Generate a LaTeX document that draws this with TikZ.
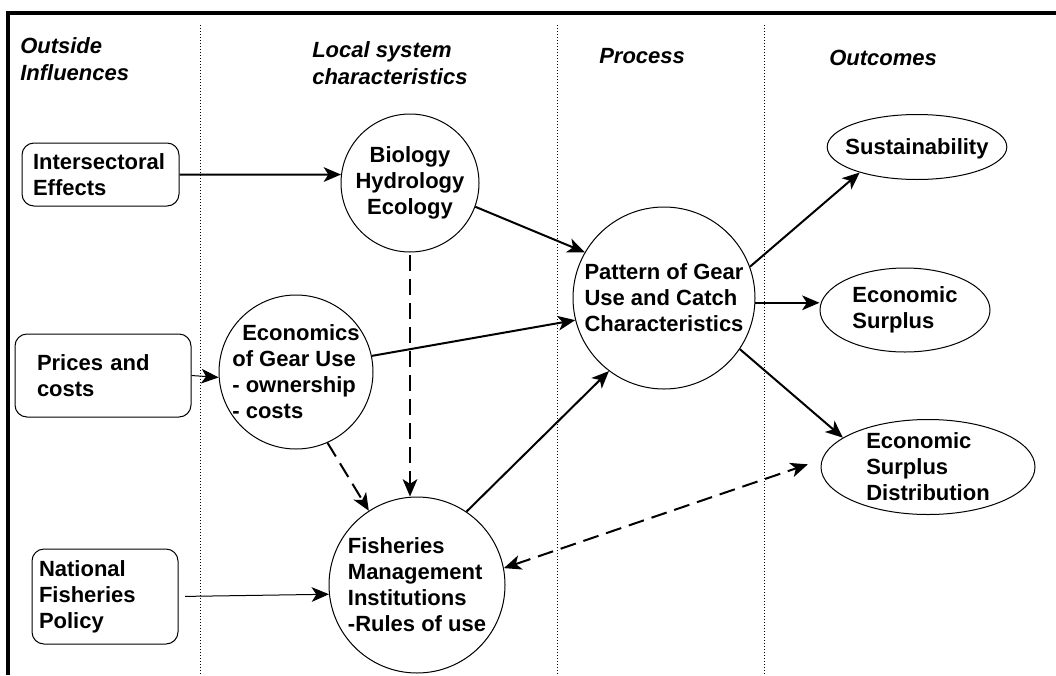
\documentclass[tikz,border=0pt]{standalone}
\usepackage{fontspec}
\setmainfont{Liberation Sans}
\usepackage{tikz}
\usetikzlibrary{shapes.geometric,arrows.meta}
\tikzstyle{blob}=[circle, draw, line width=.75pt, inner sep=-6pt, align=center]
\tikzstyle{oval}=[ellipse, draw, line width=.75pt, inner sep=-6pt, align=left]
\tikzstyle{box}=[rectangle, rounded corners=9pt, draw, line width=.75pt, align=left, inner ysep=0pt]
\tikzstyle{head}=[font=\bfseries\itshape\fontsize{16.5}{20}\selectfont, align=left, inner sep=0pt]
\tikzstyle{link}=[->, line width=1.5pt]
\tikzstyle{thinlink}=[->, line width=.75pt]
\tikzstyle{dashlink}=[link, dash pattern=on 12pt off 6pt]

\begin{document}
\begin{tikzpicture}[x=.75pt, y=.75pt, yscale=-1, >={Stealth[length=13pt,width=11pt,inset=3.5pt]},
		every node/.style={font=\bfseries\fontsize{16.5}{19.5}\selectfont}]
					\useasboundingbox (0,0) rectangle (1056,675);
					\draw[line width=2.5pt] (8,675) -- (8,13) -- (1056,13);
					\foreach \x in {200, 557, 764}{
						\draw[line width=.6pt, dash pattern=on .75pt off 1.5pt] (\x, 25) -- (\x, 675);
					}
					\node[head, anchor=base west] (outside) at (20,80) {Outside\\Influences};
					\node[head, anchor=base west] (local) at (312,84) {Local system\\characteristics};
					\node[head, anchor=base west] (process) at (599,63) {Process};
					\node[head, anchor=base west] (outcomes) at (829,65) {Outcomes};
					\node[box, minimum height=47.25pt, text width=101.25pt, inner xsep=8.25pt] (int) at (100.5,174.5) {Intersectoral\\Effects};
					\node[box, minimum height=62.25pt, text width=99pt, inner xsep=16.5pt] (pri) at (103,375.5) {Prices and\\costs};
					\node[box, minimum height=71.25pt, text width=99pt, inner xsep=5.25pt] (nat) at (105,596.5) {National\\Fisheries\\Policy};
					\node[blob, minimum size=103.5pt] (bio) at (410,183) {Biology\\Hydrology\\Ecology};
					\node[blob, minimum size=115.5pt, align=left] (eco) at (296,372) {\hspace*{.45em}Economics\\of Gear Use\\- ownership\\- costs};
					\node[blob, minimum size=136.5pt, align=left] (pat) at (664,298) {Pattern of Gear\\Use and Catch\\Characteristics};
					\node[blob, minimum size=132pt, align=left] (fis) at (417,585) {Fisheries\\Management\\Institutions\\-Rules of use};
					\node[oval, minimum width=133.5pt, minimum height=48.75pt, text depth=0pt] (sus) at (917,147) {Sustainability};
					\node[oval, minimum width=127.5pt, minimum height=63pt] (sur) at (905,310) {Economic\\Surplus};
					\node[oval, minimum width=160.5pt, minimum height=71.25pt] (dis) at (928,467) {Economic\\Surplus\\Distribution};
					\draw[link] (int.east) -- (bio.173);
					\draw[thinlink] (pri.east) -- (eco.184);
					\draw[thinlink, shorten <=5pt] (nat.east) -- (fis.186);
					\draw[link] (bio.-20) -- (pat.150);
					\draw[link] (eco.12) -- (pat.194);
					\draw[link] (fis.56) -- (pat.233);
					\draw[dashlink, shorten <=2pt] (bio.south) -- (bio.south |- fis.north);
					\draw[dashlink] (eco.-66) -- (fis.123);
					\draw[link] (pat.20) -- (sus.204);
					\draw[link] (pat.-3) -- (pat.-3 -| sur.west);
					\draw[link] (pat.-34) -- (dis.161);
					\draw[dashlink, <->, shorten >=11pt] (fis.11) -- (dis.176);
				\end{tikzpicture}
\end{document}
